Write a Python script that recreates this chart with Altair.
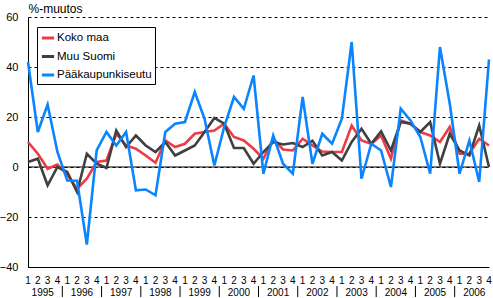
import altair as alt
import pandas as pd

# ---- data ----
years = ["1995", "1996", "1997", "1998", "1999", "2000",
         "2001", "2002", "2003", "2004", "2005", "2006"]
quarters = [1, 2, 3, 4]
series_names = ["Koko maa", "Muu Suomi", "Pääkaupunkiseutu"]

koko_maa = [10, 5.3, -0.7, 1, -3, -8.7, -4.7, 2, 2.6, 13.3, 8.6, 7.3,
            4.6, 1.7, 10.6, 8, 9.3, 13.3, 14, 14.6, 17.3, 12, 10.6, 7.3,
            3.3, 11.3, 7, 6.6, 11.3, 8.6, 6.2, 6, 6, 16.6, 10.6, 9.3,
            12.6, 3.3, 18.6, 17.3, 14, 12.6, 10, 16, 5.3, 5.3, 11.3, 8.6]
muu_suomi = [2, 3.3, -7.3, 0, -2, -10, 5.3, 1.3, -0.4, 14.6, 8, 12.6,
             8.6, 6, 10, 4.6, 6.6, 8.6, 14, 19.6, 17.3, 7.6, 7.6, 1.3,
             6, 10, 9, 9.6, 8, 10.5, 4.6, 6, 2.6, 10, 15.3, 9.3,
             14.2, 6.6, 18, 17.3, 14, 18, 1.3, 13.3, 6.6, 4.6, 16.6, 0]
paakaupunkiseutu = [42, 14, 25, 6, -5.4, -5.5, -31, 6.6, 14, 8.6, 14, -9.3,
                    -9, -11.3, 14, 17.3, 18, 30, 19.3, 0.6, 16, 28, 23.3, 36.6,
                    -2.7, 12.6, 1.3, -2.7, 28, 1.3, 13.3, 9.3, 19.3, 50, -4.7, 9.3,
                    6.6, -8, 23.3, 18.6, 12, -2.7, 48, 25.3, -2.7, 10.6, -6, 43]

colors = ["#EE3B45", "#404040", "#0A84FF"]

# ---- tables built from the arrays ----
rows = []
for name, vals in zip(series_names, [koko_maa, muu_suomi, paakaupunkiseutu]):
    for i, v in enumerate(vals):
        rows.append({"i": i, "value": v, "series": name})
df = pd.DataFrame(rows)

q_rows = []
for k, y in enumerate(years):
    for j, q in enumerate(quarters):
        q_rows.append({"i": k * len(quarters) + j, "q": str(q)})
q_df = pd.DataFrame(q_rows)

year_df = pd.DataFrame({"year": years,
                        "i": [len(quarters) * k + 1.5 for k in range(len(years))]})
sep_df = pd.DataFrame({"i": [len(quarters) * k - 0.5 for k in range(1, len(years))]})
zero_df = pd.DataFrame({"value": [0]})

W, H = 461, 250
FONT = "Liberation Sans"

x_scale = alt.Scale(domain=[0, 47], nice=False, zero=False)
y_scale = alt.Scale(domain=[-40, 60], nice=False)
color_scale = alt.Scale(domain=series_names, range=colors)

x_axis = alt.Axis(labels=False, grid=False, ticks=False, domain=True,
                  domainColor="black", domainWidth=1, title=None)
y_axis = alt.Axis(values=[-40, -20, 0, 20, 40, 60], grid=True, gridDash=[3, 3],
                  gridColor="black", gridWidth=1, gridOpacity=1,
                  domain=True, domainColor="black", ticks=False,
                  labelFontSize=11, labelPadding=10, labelColor="black",
                  title="%-muutos", titleAngle=0, titleX=0, titleY=-9,
                  titleAlign="left", titleBaseline="middle",
                  titleFontSize=12, titleFontWeight="normal",
                  titleColor="black")

x_enc = alt.X("i:Q", scale=x_scale, axis=x_axis)
y_enc = alt.Y("value:Q", scale=y_scale, axis=y_axis)

legend = alt.Legend(orient="none", legendX=9, legendY=10, title=None,
                    fillColor="white", strokeColor="black", padding=3,
                    symbolType="stroke", symbolStrokeWidth=3, symbolSize=150,
                    labelFontSize=11.5, labelColor="black", rowPadding=4.5,
                    labelOffset=1, symbolOpacity=1)

zero = alt.Chart(zero_df).mark_rule(color="black", strokeWidth=1).encode(y=y_enc)

base = alt.Chart(df)
lines = []
for name in series_names:
    lines.append(
        base.transform_filter(alt.datum.series == name)
        .mark_line(strokeWidth=2.6, strokeJoin="miter")
        .encode(x=x_enc, y=y_enc,
                color=alt.Color("series:N", scale=color_scale, legend=legend))
    )

q_text = alt.Chart(q_df).mark_text(fontSize=10, baseline="middle",
                                   align="center", color="black").encode(
    x=x_enc, y=alt.value(H + 14), text="q:N")

year_text = alt.Chart(year_df).mark_text(fontSize=10, baseline="middle",
                                         align="center", color="black").encode(
    x=x_enc, y=alt.value(H + 26), text="year:N")

seps = alt.Chart(sep_df).mark_rule(color="black", strokeWidth=1).encode(
    x=x_enc, y=alt.value(H + 19), y2=alt.value(H + 30))

chart = alt.layer(zero, *lines, q_text, year_text, seps).properties(
    width=W, height=H,
    autosize=alt.AutoSizeParams(type="none"),
    padding={"left": 28, "top": 17, "right": 4, "bottom": 31},
).configure(font=FONT).configure_view(strokeWidth=0)

chart.save("out.html", embed_options={"renderer": "svg", "actions": False})
